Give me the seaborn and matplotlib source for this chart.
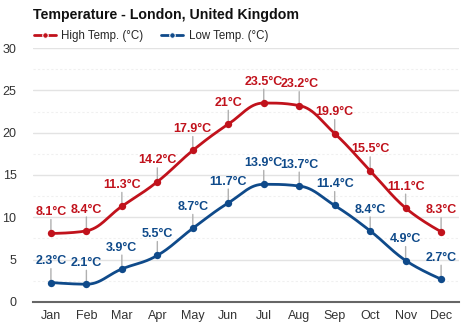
import numpy as np
import pandas as pd
import matplotlib
matplotlib.use("Agg")
import matplotlib.pyplot as plt
import seaborn as sns

months = ["Jan", "Feb", "Mar", "Apr", "May", "Jun", "Jul", "Aug", "Sep", "Oct", "Nov", "Dec"]
high_temp = [8.1, 8.4, 11.3, 14.2, 17.9, 21.0, 23.5, 23.2, 19.9, 15.5, 11.1, 8.3]
low_temp = [2.3, 2.1, 3.9, 5.5, 8.7, 11.7, 13.9, 13.7, 11.4, 8.4, 4.9, 2.7]
high_labels = ["8.1°C", "8.4°C", "11.3°C", "14.2°C", "17.9°C", "21°C", "23.5°C", "23.2°C", "19.9°C", "15.5°C", "11.1°C", "8.3°C"]
low_labels = ["2.3°C", "2.1°C", "3.9°C", "5.5°C", "8.7°C", "11.7°C", "13.9°C", "13.7°C", "11.4°C", "8.4°C", "4.9°C", "2.7°C"]
y_ticks = [0, 5, 10, 15, 20, 25, 30]

RED = "#c1121c"
BLUE = "#0f4a8a"


def spline_path(xs, ys, smoothing=1.5, n=30):
    """Smooth cubic Bezier path through the points (spline-style control points)."""
    xs = np.asarray(xs, float)
    ys = np.asarray(ys, float)
    m = len(xs)
    lc = np.zeros((m, 2))
    rc = np.zeros((m, 2))
    for i in range(m):
        px, py = xs[i], ys[i]
        if 0 < i < m - 1:
            d = smoothing + 1
            lx = (smoothing * px + xs[i - 1]) / d
            ly = (smoothing * py + ys[i - 1]) / d
            rx = (smoothing * px + xs[i + 1]) / d
            ry = (smoothing * py + ys[i + 1]) / d
            corr = ((ry - ly) * (rx - px)) / (rx - lx) + py - ry
            ly += corr
            ry += corr
            if ly > ys[i - 1] and ly > py:
                ly = max(ys[i - 1], py)
                ry = 2 * py - ly
            elif ly < ys[i - 1] and ly < py:
                ly = min(ys[i - 1], py)
                ry = 2 * py - ly
            if ry > ys[i + 1] and ry > py:
                ry = max(ys[i + 1], py)
                ly = 2 * py - ry
            elif ry < ys[i + 1] and ry < py:
                ry = min(ys[i + 1], py)
                ly = 2 * py - ry
            lc[i] = (lx, ly)
            rc[i] = (rx, ry)
        else:
            lc[i] = (px, py)
            rc[i] = (px, py)
    t = np.linspace(0, 1, n)[:, None]
    pts = []
    for i in range(m - 1):
        p0 = np.array([xs[i], ys[i]])
        p1 = rc[i]
        p2 = lc[i + 1]
        p3 = np.array([xs[i + 1], ys[i + 1]])
        seg = ((1 - t) ** 3) * p0 + 3 * ((1 - t) ** 2) * t * p1 + 3 * (1 - t) * t ** 2 * p2 + t ** 3 * p3
        pts.append(seg if i == 0 else seg[1:])
    pts = np.vstack(pts)
    return pts[:, 0], pts[:, 1]


sns.set_theme(style="white")
plt.rcParams["font.family"] = ["Liberation Sans", "DejaVu Sans"]

fig = plt.figure(figsize=(4.74, 3.32), dpi=100)
ax = fig.add_axes([0.070, 0.0904, 0.898, 0.765])

x_idx = np.arange(len(months))
for vals, color, label in [(high_temp, RED, "High Temp. (°C)"), (low_temp, BLUE, "Low Temp. (°C)")]:
    sx, sy = spline_path(x_idx, vals)
    curve = pd.DataFrame({"x": sx, "y": sy})
    sns.lineplot(data=curve, x="x", y="y", ax=ax, color=color, lw=2.0,
                 sort=False, estimator=None, label=label, zorder=3)
    pts = pd.DataFrame({"x": x_idx, "y": vals})
    sns.scatterplot(data=pts, x="x", y="y", ax=ax, color=color, s=28,
                    edgecolor=color, linewidth=0, zorder=4, legend=False)

# value labels with short leader lines
for vals, labels, color in [(high_temp, high_labels, RED), (low_temp, low_labels, BLUE)]:
    for xi, v, lab in zip(x_idx, vals, labels):
        ax.annotate("", xy=(xi, v), xytext=(0, 10), textcoords="offset points",
                    arrowprops=dict(arrowstyle="-", color="#b0b0b0", lw=1.0,
                                    shrinkA=0, shrinkB=2), zorder=2)
        ax.annotate(lab, xy=(xi, v), xytext=(0, 11), textcoords="offset points",
                    ha="center", va="bottom", color=color, fontsize=9,
                    fontweight="bold", zorder=5)

ax.set_xlim(-0.5, 11.5)
ax.set_ylim(0, 30)
ax.set_yticks(y_ticks)
ax.set_yticks(np.arange(2.5, 30, 5), minor=True)
ax.set_xticks(x_idx)
ax.set_xticklabels(months)
ax.set_xlabel("")
ax.set_ylabel("")
ax.grid(axis="y", which="major", color="#e3e3e3", lw=1.0)
ax.grid(axis="y", which="minor", color="#f0f0f0", lw=0.8, ls=(0, (2, 2)))
ax.set_axisbelow(True)
for s in ["top", "right", "left"]:
    ax.spines[s].set_visible(False)
ax.spines["bottom"].set_color("#666666")
ax.spines["bottom"].set_linewidth(1.5)
ax.tick_params(axis="both", which="both", length=0, labelsize=9, colors="#333333")
ax.tick_params(axis="y", pad=12)
ax.tick_params(axis="x", pad=6)

leg = ax.legend(loc="lower left", bbox_to_anchor=(-0.012, 1.0), ncol=2, frameon=False,
                fontsize=8.3, handlelength=1.9, handletextpad=0.45, columnspacing=1.6,
                borderaxespad=0.1)
for h in leg.legend_handles:
    h.set_marker("o")
    h.set_markersize(4)

fig.text(0.070, 0.935, "Temperature - London, United Kingdom", fontsize=10.2,
         fontweight="bold", color="#111111", ha="left", va="bottom")

fig.savefig("out.png", dpi=100)
